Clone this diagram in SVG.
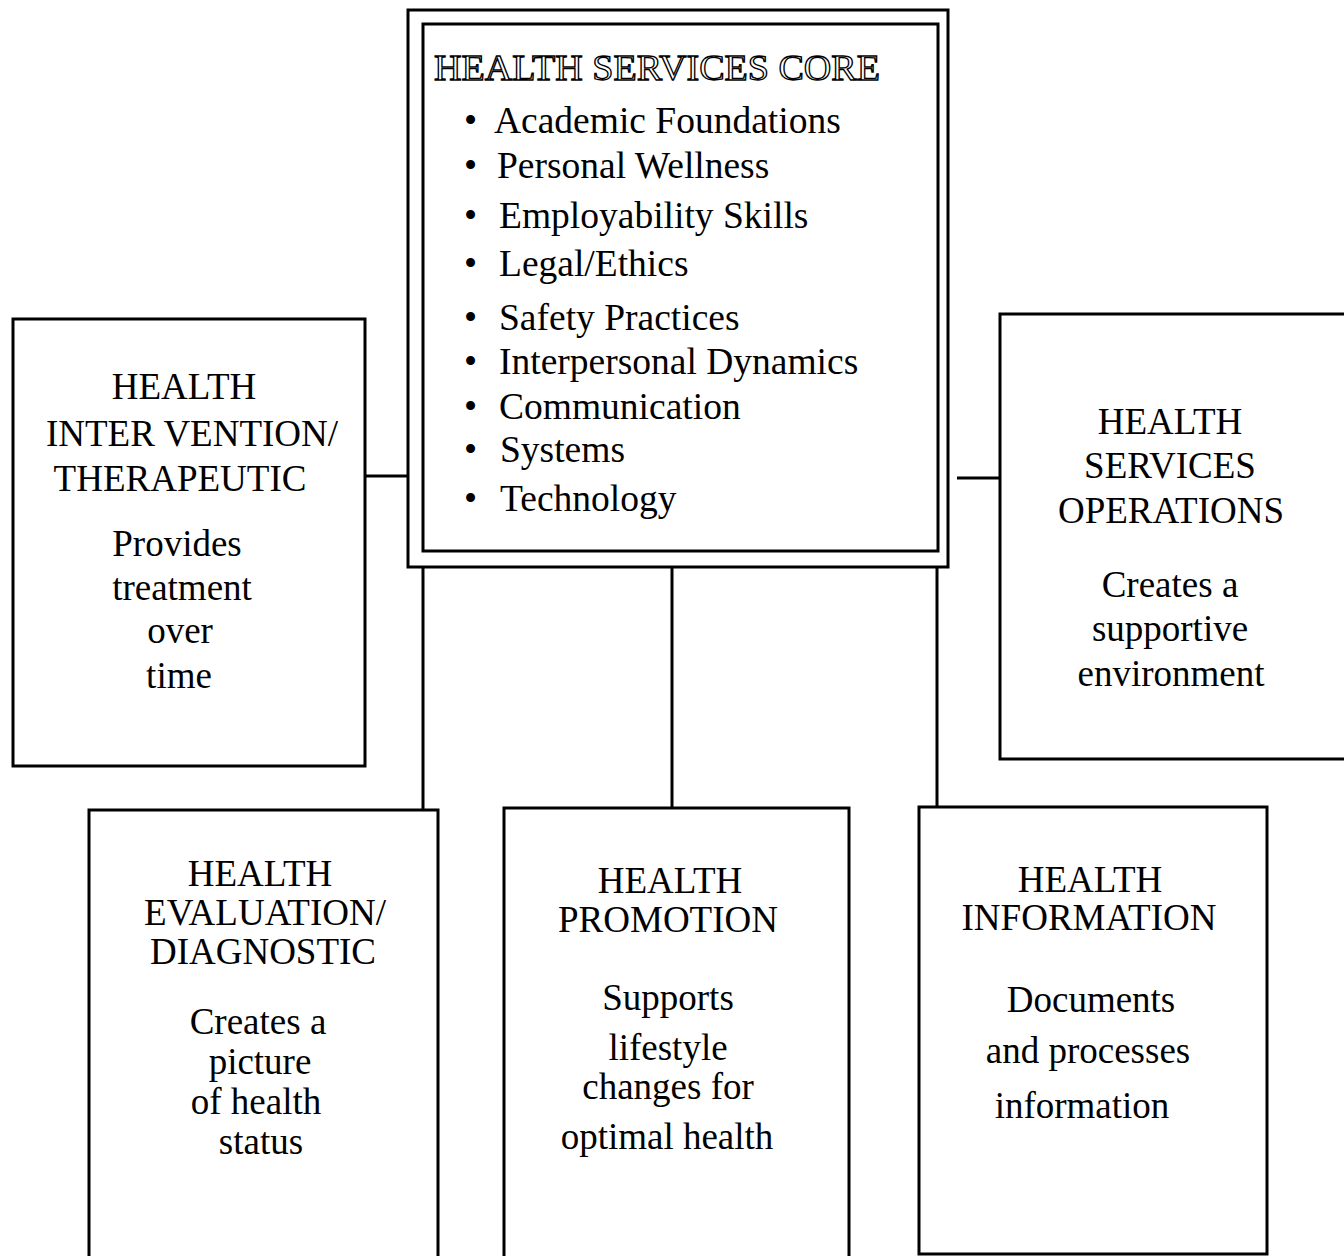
<svg xmlns="http://www.w3.org/2000/svg" width="1344" height="1256" viewBox="0 0 1344 1256">
<style>
.box{fill:none;stroke:#000;stroke-width:3}
.ln{fill:none;stroke:#000;stroke-width:3}
text{font-family:"Liberation Serif","Times New Roman",serif;fill:#000}
.t{font-size:37px;text-anchor:middle}
.b{font-size:37.5px}
.title{font-size:36px;fill:#fff;stroke:#000;stroke-width:1.3}
</style>
<rect width="1344" height="1256" fill="#fff"/>
<g id="connectors">
<line class="ln" x1="365" y1="476" x2="407" y2="476"/>
<line class="ln" x1="957" y1="478" x2="1000" y2="478"/>
<line class="ln" x1="423" y1="567" x2="423" y2="809"/>
<line class="ln" x1="672" y1="567" x2="672" y2="807"/>
<line class="ln" x1="937" y1="567" x2="937" y2="806"/>
</g>
<g id="core">
<rect class="box" x="408" y="10" width="540" height="557"/>
<rect class="box" x="423" y="24" width="515" height="527"/>
<text class="title" x="434" y="80" textLength="446" lengthAdjust="spacingAndGlyphs">HEALTH SERVICES CORE</text>
<g class="b">
<text x="464" y="133">•</text><text x="494" y="133">Academic Foundations</text>
<text x="464" y="178">•</text><text x="497" y="178">Personal Wellness</text>
<text x="464" y="228">•</text><text x="499" y="228">Employability Skills</text>
<text x="464" y="276">•</text><text x="499" y="276">Legal/Ethics</text>
<text x="464" y="330">•</text><text x="499" y="330">Safety Practices</text>
<text x="464" y="374">•</text><text x="499" y="374">Interpersonal Dynamics</text>
<text x="464" y="419">•</text><text x="499" y="419">Communication</text>
<text x="464" y="462">•</text><text x="500" y="462">Systems</text>
<text x="464" y="511">•</text><text x="500" y="511">Technology</text>
</g>
</g>
<g id="intervention">
<rect class="box" x="13" y="319" width="352" height="447"/>
<text class="t" x="184" y="399">HEALTH</text>
<text class="t" x="192" y="446">INTER VENTION/</text>
<text class="t" x="180" y="491">THERAPEUTIC</text>
<text class="t" x="177" y="556">Provides</text>
<text class="t" x="182" y="600">treatment</text>
<text class="t" x="180" y="643">over</text>
<text class="t" x="179" y="688">time</text>
</g>
<g id="operations">
<path class="box" d="M1346 314 L1000 314 L1000 759 L1346 759"/>
<text class="t" x="1170" y="434">HEALTH</text>
<text class="t" x="1170" y="478">SERVICES</text>
<text class="t" x="1171" y="523">OPERATIONS</text>
<text class="t" x="1170" y="597">Creates a</text>
<text class="t" x="1170" y="641">supportive</text>
<text class="t" x="1171" y="686">environment</text>
</g>
<g id="evaluation">
<path class="box" d="M89 1258 L89 810 L438 810 L438 1258"/>
<text class="t" x="260" y="886">HEALTH</text>
<text class="t" x="265" y="925">EVALUATION/</text>
<text class="t" x="263" y="964">DIAGNOSTIC</text>
<text class="t" x="258" y="1034">Creates a</text>
<text class="t" x="260" y="1074">picture</text>
<text class="t" x="256" y="1114">of health</text>
<text class="t" x="261" y="1154">status</text>
</g>
<g id="promotion">
<path class="box" d="M504 1258 L504 808 L849 808 L849 1258"/>
<text class="t" x="670" y="893">HEALTH</text>
<text class="t" x="668" y="932">PROMOTION</text>
<text class="t" x="668" y="1010">Supports</text>
<text class="t" x="668" y="1060">lifestyle</text>
<text class="t" x="668" y="1099">changes for</text>
<text class="t" x="667" y="1149">optimal health</text>
</g>
<g id="information">
<rect class="box" x="919" y="807" width="348" height="447"/>
<text class="t" x="1090" y="892">HEALTH</text>
<text class="t" x="1089" y="930">INFORMATION</text>
<text class="t" x="1091" y="1012">Documents</text>
<text class="t" x="1088" y="1063">and processes</text>
<text class="t" x="1082" y="1118">information</text>
</g>
</svg>
